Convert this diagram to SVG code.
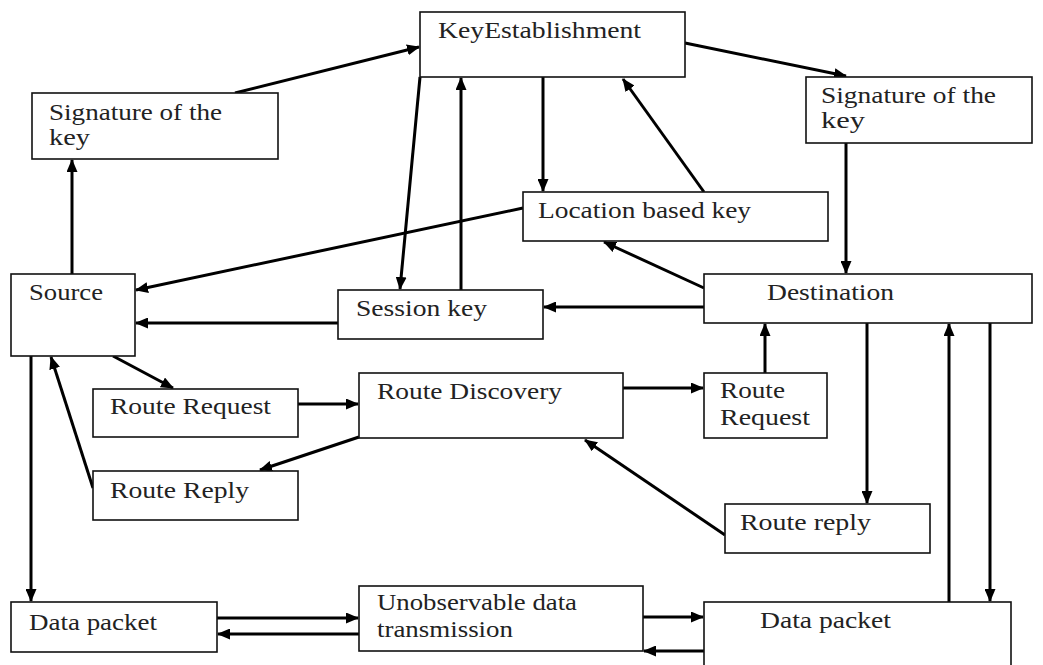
<svg xmlns="http://www.w3.org/2000/svg" width="1043" height="665" viewBox="0 0 1043 665">
<style>
.box{fill:#fff;stroke:#111;stroke-width:1.6}
.t{font-family:"Liberation Serif","Times New Roman",serif;font-size:23px;fill:#222}
.c{stroke:#000;stroke-width:3;fill:none;marker-end:url(#ah)}
</style>
<defs>
<marker id="ah" markerUnits="userSpaceOnUse" markerWidth="13" markerHeight="11" refX="12" refY="5.5" orient="auto">
<path d="M0,0 L13,5.5 L0,11 Z" fill="#000"/>
</marker>
</defs>
<rect width="1043" height="665" fill="#fff"/>
<g id="connectors">
<line class="c" x1="235" y1="93" x2="419" y2="47"/>
<line class="c" x1="72" y1="274" x2="72" y2="160"/>
<line class="c" x1="685" y1="43" x2="846" y2="76"/>
<line class="c" x1="846" y1="143" x2="846" y2="273"/>
<line class="c" x1="543" y1="77" x2="543" y2="191"/>
<line class="c" x1="704" y1="192" x2="623" y2="79"/>
<line class="c" x1="523" y1="208" x2="136" y2="290"/>
<line class="c" x1="420" y1="77" x2="400" y2="289"/>
<line class="c" x1="461" y1="290" x2="461" y2="78"/>
<line class="c" x1="338" y1="323" x2="136" y2="323"/>
<line class="c" x1="704" y1="288" x2="604" y2="242"/>
<line class="c" x1="704" y1="307" x2="544" y2="307"/>
<line class="c" x1="113" y1="356" x2="173" y2="388"/>
<line class="c" x1="298" y1="404" x2="358" y2="404"/>
<line class="c" x1="623" y1="388" x2="703" y2="388"/>
<line class="c" x1="765" y1="373" x2="765" y2="324"/>
<line class="c" x1="359" y1="437" x2="260" y2="470"/>
<line class="c" x1="93" y1="488" x2="51" y2="357"/>
<line class="c" x1="867" y1="323" x2="867" y2="503"/>
<line class="c" x1="725" y1="535" x2="585" y2="440"/>
<line class="c" x1="949" y1="602" x2="949" y2="324"/>
<line class="c" x1="990" y1="323" x2="990" y2="601"/>
<line class="c" x1="31" y1="356" x2="31" y2="601"/>
<line class="c" x1="215" y1="618" x2="358" y2="618"/>
<line class="c" x1="359" y1="634" x2="218" y2="634"/>
<line class="c" x1="643" y1="617" x2="703" y2="617"/>
<line class="c" x1="704" y1="651" x2="644" y2="651"/>
</g>
<g id="key-establishment"><rect class="box" x="420" y="12" width="265" height="65"/><text class="t" x="438" y="38" textLength="203" lengthAdjust="spacingAndGlyphs">KeyEstablishment</text></g>
<g id="signature-left"><rect class="box" x="32" y="93" width="246" height="66"/><text class="t" x="49" y="120" textLength="173" lengthAdjust="spacingAndGlyphs">Signature of the</text><text class="t" x="49" y="145" textLength="41" lengthAdjust="spacingAndGlyphs">key</text></g>
<g id="signature-right"><rect class="box" x="806" y="77" width="226" height="66"/><text class="t" x="821" y="103" textLength="175" lengthAdjust="spacingAndGlyphs">Signature of the</text><text class="t" x="821" y="128" textLength="44" lengthAdjust="spacingAndGlyphs">key</text></g>
<g id="location-key"><rect class="box" x="523" y="192" width="305" height="49"/><text class="t" x="538" y="218" textLength="213" lengthAdjust="spacingAndGlyphs">Location based key</text></g>
<g id="source"><rect class="box" x="11" y="274" width="124" height="82"/><text class="t" x="29" y="300" textLength="74" lengthAdjust="spacingAndGlyphs">Source</text></g>
<g id="session-key"><rect class="box" x="338" y="290" width="205" height="49"/><text class="t" x="356" y="316" textLength="131" lengthAdjust="spacingAndGlyphs">Session key</text></g>
<g id="destination"><rect class="box" x="704" y="274" width="328" height="49"/><text class="t" x="767" y="300" textLength="127" lengthAdjust="spacingAndGlyphs">Destination</text></g>
<g id="route-request-left"><rect class="box" x="93" y="389" width="205" height="48"/><text class="t" x="110" y="414" textLength="161" lengthAdjust="spacingAndGlyphs">Route Request</text></g>
<g id="route-discovery"><rect class="box" x="359" y="373" width="264" height="65"/><text class="t" x="377" y="399" textLength="185" lengthAdjust="spacingAndGlyphs">Route Discovery</text></g>
<g id="route-request-right"><rect class="box" x="704" y="373" width="123" height="65"/><text class="t" x="720" y="398" textLength="65" lengthAdjust="spacingAndGlyphs">Route</text><text class="t" x="720" y="425" textLength="90" lengthAdjust="spacingAndGlyphs">Request</text></g>
<g id="route-reply-left"><rect class="box" x="93" y="471" width="205" height="49"/><text class="t" x="110" y="498" textLength="139" lengthAdjust="spacingAndGlyphs">Route Reply</text></g>
<g id="route-reply-right"><rect class="box" x="725" y="504" width="205" height="49"/><text class="t" x="740" y="530" textLength="131" lengthAdjust="spacingAndGlyphs">Route reply</text></g>
<g id="data-packet-left"><rect class="box" x="11" y="602" width="206" height="50"/><text class="t" x="29" y="630" textLength="128" lengthAdjust="spacingAndGlyphs">Data packet</text></g>
<g id="unobservable"><rect class="box" x="359" y="586" width="284" height="65"/><text class="t" x="377" y="610" textLength="200" lengthAdjust="spacingAndGlyphs">Unobservable data</text><text class="t" x="377" y="637" textLength="136" lengthAdjust="spacingAndGlyphs">transmission</text></g>
<g id="data-packet-right"><rect class="box" x="704" y="602" width="307" height="70"/><text class="t" x="760" y="628" textLength="131" lengthAdjust="spacingAndGlyphs">Data packet</text></g>
</svg>
